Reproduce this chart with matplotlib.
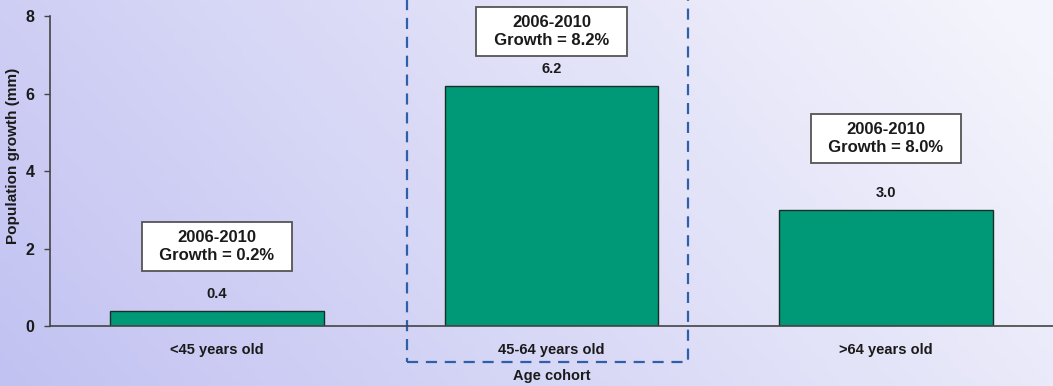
import matplotlib.pyplot as plt
import numpy as np
from matplotlib.patches import Rectangle

plt.rcParams['font.family'] = ['Liberation Sans', 'DejaVu Sans']
plt.rcParams['font.weight'] = 'bold'

cohorts = ["<45 years old", "45-64 years old", ">64 years old"]
growth_mm = [0.4, 6.2, 3.0]
growth_pct = ["0.2%", "8.2%", "8.0%"]
period = "2006-2010"

fig = plt.figure(figsize=(10.53, 3.86), dpi=100)

# lavender gradient background
bg = fig.add_axes([0, 0, 1, 1], zorder=-10)
xx, yy = np.meshgrid(np.linspace(0, 1, 200), np.linspace(0, 1, 80))
t = np.clip(0.8 * xx + 0.25 * yy, 0, 1)
c0 = np.array([194, 194, 242]) / 255
c1 = np.array([244, 244, 252]) / 255
img = c0[None, None, :] * (1 - t[..., None]) + c1[None, None, :] * t[..., None]
bg.imshow(img, aspect='auto', origin='lower', extent=[0, 1, 0, 1])
bg.axis('off')

ax = fig.add_axes([0.0475, 0.1554, 0.9525, 0.8031])
ax.patch.set_alpha(0)
x = np.arange(len(cohorts))
ax.bar(x, growth_mm, width=0.64, color='#009977', edgecolor='#1a2e28', linewidth=1.0)

ax.set_xlim(-0.5, 2.5)
ax.set_ylim(0, 8)
ax.set_yticks([0, 2, 4, 6, 8])
ax.set_xticks(x)
ax.set_xticklabels(cohorts, fontsize=10.5, fontweight='bold', color='#1a1a1a')
ax.tick_params(axis='x', length=0, pad=12)
ax.tick_params(axis='y', labelsize=11.5, colors='#444444', labelcolor='#1a1a1a', length=4, width=1, pad=7)
for s in ['top', 'right']:
    ax.spines[s].set_visible(False)
for s in ['left', 'bottom']:
    ax.spines[s].set_color('#444444')
    ax.spines[s].set_linewidth(1.2)
ax.set_ylabel("Population growth (mm)", fontsize=11, fontweight='bold', color='#1a1a1a')
ax.yaxis.set_label_coords(-0.03, 0.55)
ax.set_xlabel("Age cohort", fontsize=10.5, fontweight='bold', color='#1a1a1a', labelpad=9)

box_gaps = [40, 30, 47]  # px gap between bar top and box bottom
for i, v in enumerate(growth_mm):
    ax.annotate(f"{v:.1f}", (x[i], v), xytext=(0, 7), textcoords='offset points',
                ha='center', va='bottom', fontsize=10.5, fontweight='bold', color='#1a1a1a')
    ax.annotate(f"{period}\n  Growth = {growth_pct[i]}  ", (x[i], v),
                xytext=(0, (box_gaps[i] + 8) * 0.72), textcoords='offset points',
                ha='center', va='bottom', fontsize=12, fontweight='bold', color='#1a1a1a',
                linespacing=1.2,
                bbox=dict(boxstyle='square,pad=0.5', fc='white', ec='#555555', lw=1.3),
                annotation_clip=False)

# dashed highlight around the middle cohort
ax.add_patch(Rectangle((0.568, -0.93), 0.84, 9.5, fill=False, ls=(0, (5, 3.5)),
                       ec='#2f5fa8', lw=1.6, clip_on=False))

fig.savefig("out.png", dpi=100)
